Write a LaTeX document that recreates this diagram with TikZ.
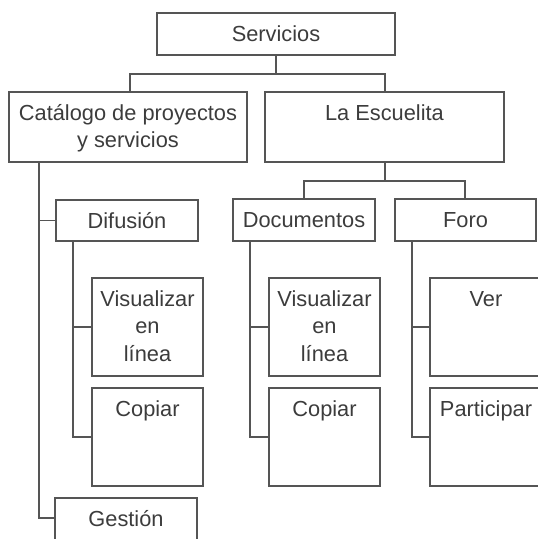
\documentclass[tikz,border=0pt]{standalone}
\usepackage{fontspec}
\setmainfont{Liberation Sans}
\usetikzlibrary{calc}
\definecolor{linegray}{HTML}{555555}
\definecolor{txtgray}{HTML}{3C3C3C}
\begin{document}
\begin{tikzpicture}[x=1pt,y=-1pt,
  box/.style={draw=linegray,line width=1.4pt,inner sep=0pt,outer sep=0pt},
  conn/.style={draw=linegray,line width=1.4pt},
  lbl/.style={text=txtgray,anchor=base,inner sep=0pt,
    font=\fontsize{21.8}{27.5}\selectfont}]
\useasboundingbox (0,0) rectangle (538,539);
\clip (0,0) rectangle (538,539);
% boxes: name, x1, y1, x2, y2
\newcommand{\bx}[5]{\node[box,minimum width={#4-#2},minimum height={#5-#3}] (#1) at ({(#2+#4)/2},{(#3+#5)/2}) {};}
\bx{serv}{157}{13}{395}{55}
\bx{cat}{9}{92}{247}{162}
\bx{esc}{265}{92}{504}{162}
\bx{dif}{56}{200}{198}{241}
\bx{doc}{233}{199}{375}{241}
\bx{foro}{395}{199}{536}{241}
\bx{visA}{92}{278}{203}{376}
\bx{copA}{92}{388}{203}{486}
\bx{ges}{55}{498}{197}{541}
\bx{visB}{269}{278}{380}{376}
\bx{copB}{269}{388}{380}{486}
\bx{ver}{430}{278}{542}{376}
\bx{par}{430}{388}{542}{486}
% labels
\newcommand{\lb}[3]{\node[lbl] (#1-t) at ($(#2.north)+(0,28)$) {\begin{tabular}[t]{@{}c@{}}#3\end{tabular}};}
\lb{servt}{serv}{Servicios}
\lb{catt}{cat}{Catálogo de proyectos\\y servicios}
\lb{esct}{esc}{La Escuelita}
\lb{dift}{dif}{Difusión}
\lb{doct}{doc}{Documentos}
\lb{forot}{foro}{Foro}
\lb{visAt}{visA}{Visualizar\\en\\línea}
\lb{copAt}{copA}{Copiar}
\lb{gest}{ges}{Gestión}
\lb{visBt}{visB}{Visualizar\\en\\línea}
\lb{copBt}{copB}{Copiar}
\lb{vert}{ver}{Ver}
\lb{part}{par}{Participar}
% junction coordinates
\coordinate (j0) at (276,74);
\coordinate (j0l) at (130,74);
\coordinate (j0r) at (385,74);
\coordinate (j1) at (385,181);
\coordinate (j1l) at (304,181);
\coordinate (j1r) at (465,181);
\coordinate (catx) at (39,0);
\coordinate (difx) at (73,0);
\coordinate (docx) at (250,0);
\coordinate (forox) at (412,0);
\coordinate (gesy) at (0,518);
% connectors
\draw[conn] (serv.south) -- (j0);
\draw[conn] (cat.north -| j0l) -- (j0l) -- (j0r) -- (esc.north -| j0r);
\draw[conn] (esc.south -| j1) -- (j1);
\draw[conn] (doc.north -| j1l) -- (j1l) -- (j1r) -- (foro.north -| j1r);
\draw[conn] (cat.south -| catx) |- (dif.west);
\draw[conn] (cat.south -| catx) |- (ges.west |- gesy);
\draw[conn] (dif.south -| difx) |- (visA.west);
\draw[conn] (dif.south -| difx) |- (copA.west);
\draw[conn] (doc.south -| docx) |- (visB.west);
\draw[conn] (doc.south -| docx) |- (copB.west);
\draw[conn] (foro.south -| forox) |- (ver.west);
\draw[conn] (foro.south -| forox) |- (par.west);
\end{tikzpicture}
\end{document}
